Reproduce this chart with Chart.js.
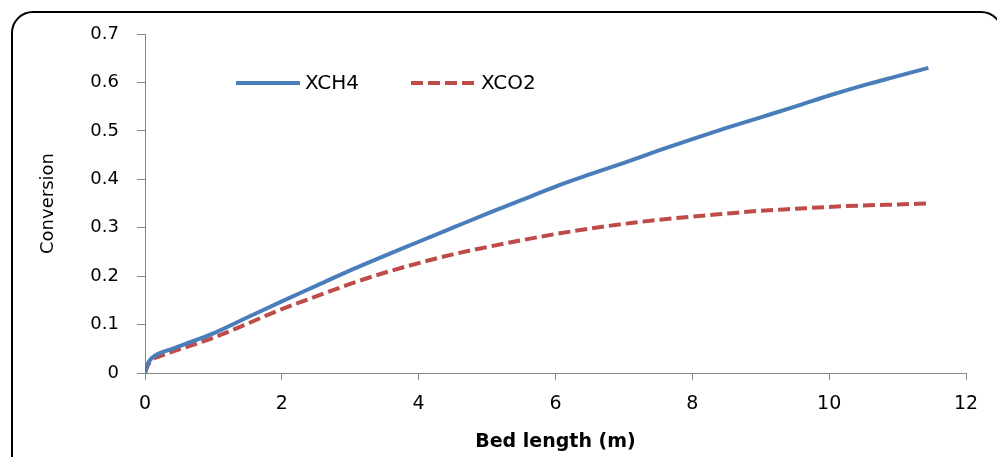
<!DOCTYPE html>
<html>
<head>
<meta charset="utf-8">
<script src="https://cdn.jsdelivr.net/npm/chart.js@4.4.1/dist/chart.umd.min.js"></script>
<style>
  html, body { margin: 0; padding: 0; background: #fff; }
  #wrap { position: relative; width: 997px; height: 457px; overflow: hidden; }
  #marco {
    position: absolute; left: 11px; top: 11px; width: 992px; height: 470px;
    border: 2px solid #000; border-radius: 22px; box-sizing: border-box;
  }
  #grafico { position: absolute; left: 0; top: 0; }
</style>
</head>
<body>
<div id="wrap">
  <div id="marco"></div>
  <canvas id="grafico" width="997" height="457"></canvas>
</div>
<script>
// Longitud de lecho (m)
const longitud = [0, 0.02, 0.05, 0.1, 0.2, 0.4, 0.7, 1.0, 1.5, 2.0, 2.5, 3.0, 3.5, 4.0, 4.5, 5.0,
  5.5, 6.0, 6.5, 7.0, 7.5, 8.0, 8.5, 9.0, 9.5, 10.0, 10.5, 11.0, 11.45];

// Conversión de CH4
const xch4 = [0, 0.012, 0.022, 0.031, 0.040, 0.050, 0.066, 0.082, 0.115, 0.148, 0.180, 0.212, 0.242,
  0.271, 0.300, 0.329, 0.357, 0.385, 0.410, 0.434, 0.459, 0.483, 0.506, 0.528, 0.550, 0.573, 0.594,
  0.613, 0.630];

// Conversión de CO2
const xco2 = [0, 0.008, 0.018, 0.027, 0.034, 0.044, 0.058, 0.073, 0.102, 0.132, 0.158, 0.184, 0.207,
  0.227, 0.245, 0.260, 0.274, 0.287, 0.298, 0.308, 0.316, 0.323, 0.329, 0.335, 0.339, 0.343, 0.346,
  0.348, 0.350];

const nombres = ["XCH4", "XCO2"];
const ticksX = [0, 2, 4, 6, 8, 10, 12];
const ticksY = [0, 0.1, 0.2, 0.3, 0.4, 0.5, 0.6, 0.7];

const AZUL = "#4a7ebb";
const ROJO = "#be4b48";
const GRIS = "#868686";

function puntos(ys) {
  return longitud.map((x, i) => ({ x: x, y: ys[i] }));
}

// Leyenda dibujada a mano dentro del área del gráfico
const leyendaPlugin = {
  id: "leyenda",
  afterDraw(chart) {
    const ctx = chart.ctx;
    const items = [
      { x0: 236, x1: 300, tx: 305, color: AZUL, dash: [] },
      { x0: 411, x1: 477, tx: 481, color: ROJO, dash: [12, 5] },
    ];
    ctx.save();
    items.forEach((it, i) => {
      ctx.beginPath();
      ctx.setLineDash(it.dash);
      ctx.lineCap = "butt";
      ctx.lineWidth = 4;
      ctx.strokeStyle = it.color;
      ctx.moveTo(it.x0, 83);
      ctx.lineTo(it.x1, 83);
      ctx.stroke();
      ctx.setLineDash([]);
      ctx.fillStyle = "#000";
      ctx.font = "20px 'DejaVu Sans'";
      ctx.textBaseline = "middle";
      ctx.fillText(nombres[i], it.tx, 84);
    });
    ctx.restore();
  },
};

const ctx = document.getElementById("grafico");
new Chart(ctx, {
  type: "line",
  data: {
    datasets: [
      {
        label: nombres[0],
        data: puntos(xch4),
        borderColor: AZUL,
        borderWidth: 4,
        pointRadius: 0,
        cubicInterpolationMode: "monotone",
      },
      {
        label: nombres[1],
        data: puntos(xco2),
        borderColor: ROJO,
        borderWidth: 4,
        borderDash: [12, 5],
        pointRadius: 0,
        cubicInterpolationMode: "monotone",
      },
    ],
  },
  options: {
    responsive: false,
    animation: false,
    layout: { padding: { left: 0, top: 34, right: 31, bottom: 0 } },
    plugins: { legend: { display: false }, tooltip: { enabled: false } },
    scales: {
      x: {
        type: "linear",
        min: 0,
        max: 12,
        afterBuildTicks: (s) => { s.ticks = ticksX.map((v) => ({ value: v })); },
        afterFit: (s) => { s.height = 84; },
        border: { display: true, color: GRIS, width: 1 },
        grid: { drawOnChartArea: false, color: GRIS, tickLength: 7 },
        ticks: { color: "#000", padding: 13, font: { family: "DejaVu Sans", size: 19 } },
        title: {
          display: true,
          text: "Bed length (m)",
          color: "#000",
          padding: { top: 0, bottom: 4 },
          font: { family: "DejaVu Sans", size: 19, weight: "bold" },
        },
      },
      y: {
        min: 0,
        max: 0.7,
        afterBuildTicks: (s) => { s.ticks = ticksY.map((v) => ({ value: v })); },
        afterFit: (s) => { s.width = 145; },
        border: { display: true, color: GRIS, width: 1 },
        grid: { drawOnChartArea: false, color: GRIS, tickLength: 8 },
        ticks: {
          color: "#000",
          padding: 18,
          font: { family: "DejaVu Sans", size: 18 },
          callback: (v) => (v === 0 ? "0" : v.toFixed(1)),
        },
        title: {
          display: true,
          text: "Conversion",
          color: "#000",
          padding: { top: 38, bottom: 0 },
          font: { family: "DejaVu Sans", size: 18, weight: "500" },
        },
      },
    },
  },
  plugins: [leyendaPlugin],
});
</script>
</body>
</html>
